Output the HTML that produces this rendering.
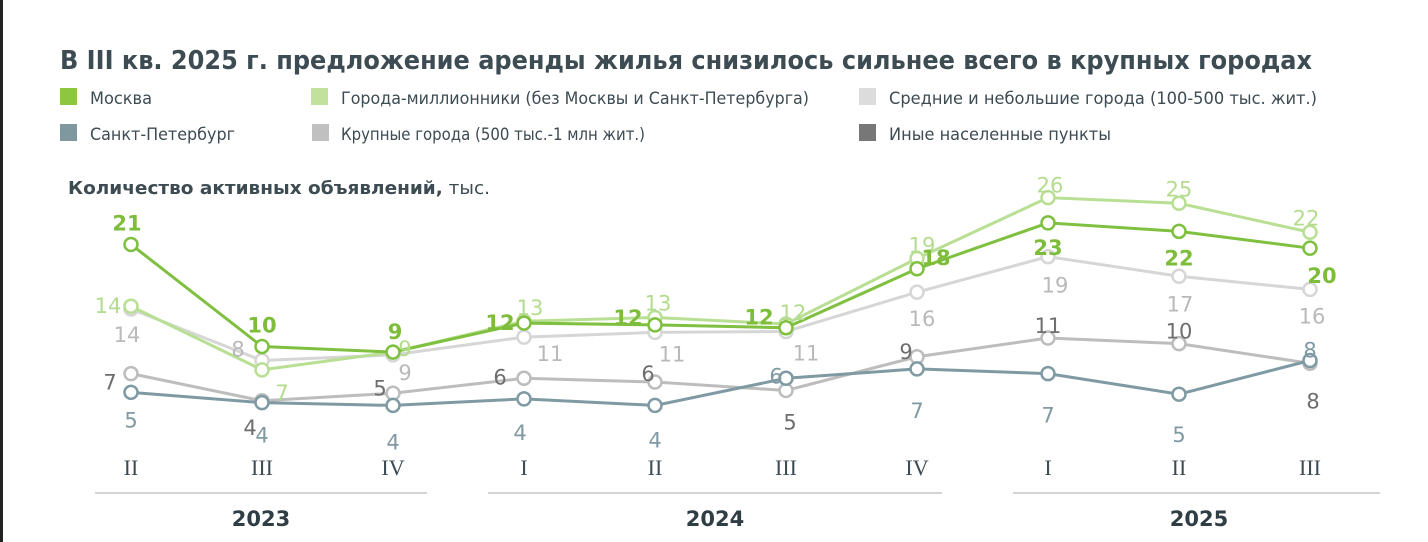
<!DOCTYPE html>
<html><head><meta charset="utf-8"><style>
html,body{margin:0;padding:0;background:#fff;}
svg{display:block;font-family:"DejaVu Sans","Liberation Sans",sans-serif;}
</style></head><body>
<svg id="chart" width="1428" height="542" viewBox="0 0 1428 542" xmlns="http://www.w3.org/2000/svg">
<rect x="0" y="0" width="3" height="542" fill="#222"/>
<text x="60" y="69" font-size="26" font-weight="bold" fill="#3d4b52" textLength="1252" lengthAdjust="spacingAndGlyphs">В III кв. 2025 г. предложение аренды жилья снизилось сильнее всего в крупных городах</text>
<g>
 <g><rect x="60" y="88" width="17" height="17" fill="#8dc63f"/><text x="90" y="104" font-size="17" fill="#3d4b52" textLength="62" lengthAdjust="spacingAndGlyphs">Москва</text></g>
 <g><rect x="311" y="88" width="17" height="17" fill="#c2e19c"/><text x="341" y="104" font-size="17" fill="#3d4b52" textLength="468" lengthAdjust="spacingAndGlyphs">Города-миллионники (без Москвы и Санкт-Петербурга)</text></g>
 <g><rect x="859" y="88" width="17" height="17" fill="#dcdcdc"/><text x="889" y="104" font-size="17" fill="#3d4b52" textLength="428" lengthAdjust="spacingAndGlyphs">Средние и небольшие города (100-500 тыс. жит.)</text></g>
 <g><rect x="60" y="124" width="17" height="17" fill="#7f98a0"/><text x="90" y="140" font-size="17" fill="#3d4b52" textLength="145" lengthAdjust="spacingAndGlyphs">Санкт-Петербург</text></g>
 <g><rect x="312" y="124" width="17" height="17" fill="#c0c0c0"/><text x="341" y="140" font-size="17" fill="#3d4b52" textLength="304" lengthAdjust="spacingAndGlyphs">Крупные города (500 тыс.-1 млн жит.)</text></g>
 <g><rect x="859" y="124" width="17" height="17" fill="#777777"/><text x="889" y="140" font-size="17" fill="#3d4b52" textLength="222" lengthAdjust="spacingAndGlyphs">Иные населенные пункты</text></g>
</g>
<text x="68" y="194" font-size="18" fill="#3d4b52" textLength="422" lengthAdjust="spacingAndGlyphs"><tspan font-weight="bold">Количество активных объявлений,</tspan> тыс.</text>
<g id="axis"></g>
<g id="plot"></g>
</svg>
<script>
const quarters = ["II","III","IV","I","II","III","IV","I","II","III"];
const years = ["2023","2024","2025"];
const moscow = [21.0,10.1,9.5,12.6,12.4,12.1,18.4,23.3,22.4,20.6];
const millionaires = [14.4,7.6,9.5,12.8,13.2,12.5,19.5,26.0,25.4,22.3];
const medium = [14.1,8.6,9.2,11.1,11.6,11.7,15.9,19.7,17.6,16.2];
const large = [7.2,4.3,5.1,6.7,6.3,5.4,9.0,11.0,10.4,8.3];
const spb = [5.2,4.1,3.8,4.5,3.8,6.7,7.7,7.2,5.0,8.6];
const moscowLabels = ["21","10","9","12","12","12","18","23","22","20"];
const millionairesLabels = ["14","7","9","13","13","12","19","26","25","22"];
const mediumLabels = ["14","8","9","11","11","11","16","19","17","16"];
const largeLabels = ["7","4","5","6","6","5","9","11","10","8"];
const spbLabels = ["5","4","4","4","4","6","7","7","5","8"];

const NS="http://www.w3.org/2000/svg";
function xPos(i){return 131+i*131;}
function yPos(v){return 441-v*9.36;}
const plot=document.getElementById('plot'), axis=document.getElementById('axis');
function mk(tag,attrs,parent){const e=document.createElementNS(NS,tag);for(const k in attrs)e.setAttribute(k,attrs[k]);parent.appendChild(e);return e;}

const off = {
 moscow:[[-4,-22],[0,-22],[2,-21],[-24,-1],[-27,-8],[-27,-11],[19,-12],[0,24],[0,26],[12,27]],
 millionaires:[[-23,-1],[20,22],[12,-4],[6,-14],[3,-15],[7,-12],[5,-14],[2,-13],[0,-15],[-4,-15]],
 medium:[[-4,25],[-24,-12],[12,17],[26,16],[17,21],[20,21],[5,26],[7,28],[1,27],[2,26]],
 large:[[-21,8],[-12,26],[-13,-6],[-24,-2],[-7,-9],[4,31],[-11,-6],[0,-13],[0,-13],[3,37]],
 spb:[[0,27],[0,32],[0,36],[-4,33],[0,34],[-10,-3],[0,41],[0,41],[0,40],[0,-11]]
};
const series=[
 {name:'large',vals:large,labels:largeLabels,color:'#bdbdbd',lc:'#6e6e6e'},
 {name:'spb',vals:spb,labels:spbLabels,color:'#7f9aa3',lc:'#7f9aa3'},
 {name:'medium',vals:medium,labels:mediumLabels,color:'#d6d6d6',lc:'#b9b9b9'},
 {name:'millionaires',vals:millionaires,labels:millionairesLabels,color:'#b8df94',lc:'#b3dc8e'},
 {name:'moscow',vals:moscow,labels:moscowLabels,color:'#80c040',lc:'#7dbd3a'}
];
series.forEach(s=>{
 const g=mk('g',{},plot);
 
 
 const pl=mk('polyline',{points:s.vals.map((v,i)=>xPos(i)+','+yPos(v)).join(' '),fill:'none',stroke:s.color,'stroke-width':3},g);
 
 
 s.vals.forEach((v,i)=>{
  const c=mk('circle',{cx:xPos(i),cy:yPos(v),r:6.5,fill:'#fff',stroke:s.color,'stroke-width':2.5},g);
  
  
 });
});
series.forEach(s=>{
 s.vals.forEach((v,i)=>{
  const o=off[s.name][i];
  const t=mk('text',{x:xPos(i)+o[0],y:yPos(v)+o[1]+8,'font-size':21,fill:s.lc,'text-anchor':'middle','font-weight':(s.name==='moscow'?'bold':'normal')},plot);
  t.textContent=s.labels[i];
  
  
 });
});
quarters.forEach((q,i)=>{
 const t=mk('text',{x:xPos(i),y:475,'font-size':22,fill:'#3d4b52','text-anchor':'middle','font-family':'Liberation Serif, serif'},axis);
 t.textContent=q;
 
 
});
const yearSpans=[[95,427],[488,942],[1013,1380]];
const yearX=[261,715,1199];
years.forEach((y,i)=>{
 const l=mk('line',{x1:yearSpans[i][0],x2:yearSpans[i][1],y1:493,y2:493,stroke:'#d4d4d4','stroke-width':2},axis);
 
 
 const t=mk('text',{x:yearX[i],y:526,'font-size':21,'font-weight':'bold',fill:'#2f3d44','text-anchor':'middle'},axis);
 t.textContent=y;
 
 
});
</script>
</body></html>
